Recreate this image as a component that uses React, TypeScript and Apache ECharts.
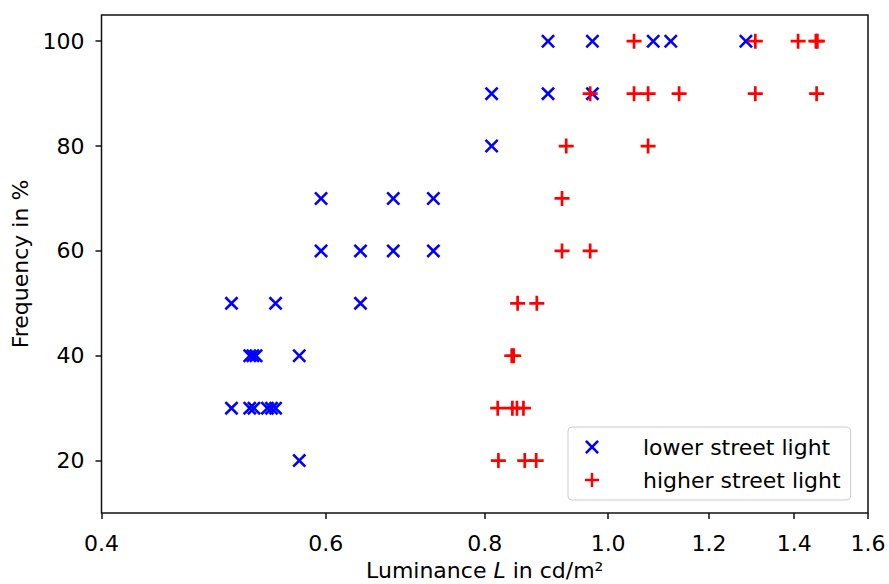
import React, { useEffect, useRef } from "react";
import * as echarts from "echarts";

const xTicks = [0.4, 0.6, 0.8, 1.0, 1.2, 1.4, 1.6];
const yTicks = [20, 40, 60, 80, 100];
const seriesNames = ["lower street light", "higher street light"];

// lower street light (blue x)
const lowerL = [
  0.897, 0.972, 1.085, 1.12, 1.283,
  0.81, 0.897, 0.972,
  0.81,
  0.595, 0.678, 0.729,
  0.595, 0.639, 0.678, 0.729,
  0.506, 0.548, 0.639,
  0.523, 0.526, 0.529, 0.572,
  0.506, 0.523, 0.527, 0.54, 0.544, 0.548,
  0.572,
];
const lowerFreq = [
  100, 100, 100, 100, 100,
  90, 90, 90,
  80,
  70, 70, 70,
  60, 60, 60, 60,
  50, 50, 50,
  40, 40, 40, 40,
  30, 30, 30, 30, 30, 30,
  20,
];

// higher street light (red +)
const higherL = [
  1.048, 1.305, 1.41, 1.456, 1.46,
  0.968, 1.048, 1.075, 1.137, 1.305, 1.458,
  0.927, 1.075,
  0.92,
  0.92, 0.968,
  0.849, 0.879,
  0.84, 0.843,
  0.819, 0.841, 0.848, 0.858,
  0.82, 0.86, 0.878,
];
const higherFreq = [
  100, 100, 100, 100, 100,
  90, 90, 90, 90, 90, 90,
  80, 80,
  70,
  60, 60,
  50, 50,
  40, 40,
  30, 30, 30, 30,
  20, 20, 20,
];

const X_PATH =
  "path://M0,1.3 L1.3,0 L5,3.7 L8.7,0 L10,1.3 L6.3,5 L10,8.7 L8.7,10 L5,6.3 L1.3,10 L0,8.7 L3.7,5 Z";
const PLUS_PATH =
  "path://M4.1,0 L5.9,0 L5.9,4.1 L10,4.1 L10,5.9 L5.9,5.9 L5.9,10 L4.1,10 L4.1,5.9 L0,5.9 L0,4.1 L4.1,4.1 Z";

const FONT = "DejaVu Sans";
const FS = 22;

export default function App() {
  const ref = useRef<HTMLDivElement>(null);
  useEffect(() => {
    if (!ref.current) return;
    const chart = echarts.init(ref.current, null, { renderer: "svg" });
    chart.setOption({
      animation: false,
      textStyle: { fontFamily: FONT },
      grid: {
        left: 101.5,
        right: 21,
        top: 15,
        bottom: 71,
        show: true,
        borderColor: "#111",
        borderWidth: 1.5,
        backgroundColor: "transparent",
        containLabel: false,
        outerBoundsMode: "none",
      },
      legend: {
        orient: "vertical",
        left: 568,
        top: 427,
        data: seriesNames,
        selectedMode: false,
        itemWidth: 30,
        itemHeight: 14,
        itemGap: 11,
        padding: [9, 10, 9, 17],
        backgroundColor: "rgba(255,255,255,0.8)",
        borderColor: "#cccccc",
        borderWidth: 1,
        borderRadius: 4,
        textStyle: {
          fontSize: FS,
          fontFamily: FONT,
          color: "#000",
          padding: [0, 0, 0, 31],
        },
      },
      xAxis: {
        type: "log",
        logBase: 10,
        min: 0.4,
        max: 1.6,
        name: "Luminance {i|L} in cd/m²",
        nameLocation: "middle",
        nameGap: 46,
        nameTextStyle: {
          fontSize: FS,
          fontFamily: FONT,
          color: "#000",
          rich: {
            i: { fontStyle: "italic", fontSize: FS, fontFamily: FONT, color: "#000" },
          },
        },
        axisLine: { show: false },
        axisTick: {
          show: true,
          length: 6,
          customValues: xTicks,
          lineStyle: { color: "#111", width: 1.5 },
        },
        axisLabel: {
          customValues: xTicks,
          formatter: (v: number) => Number(v).toFixed(1),
          fontSize: FS,
          fontFamily: FONT,
          color: "#000",
          margin: 19,
        },
        splitLine: { show: false },
        minorTick: { show: false },
      },
      yAxis: {
        type: "value",
        min: 10,
        max: 105,
        name: "Frequency in %",
        nameLocation: "middle",
        nameGap: 70,
        nameRotate: 90,
        nameTextStyle: { fontSize: FS, fontFamily: FONT, color: "#000" },
        axisLine: { show: false },
        axisTick: {
          show: true,
          length: 6,
          customValues: yTicks,
          lineStyle: { color: "#111", width: 1.5 },
        },
        axisLabel: {
          customValues: yTicks,
          fontSize: FS,
          fontFamily: FONT,
          color: "#000",
          margin: 17,
        },
        splitLine: { show: false },
      },
      series: [
        {
          name: seriesNames[0],
          type: "scatter",
          symbol: X_PATH,
          symbolSize: 14,
          itemStyle: { color: "#0000ff", opacity: 1 },
          emphasis: { disabled: true },
          data: lowerL.map((l, i) => [l, lowerFreq[i]]),
        },
        {
          name: seriesNames[1],
          type: "scatter",
          symbol: PLUS_PATH,
          symbolSize: 15,
          itemStyle: { color: "#ff0000", opacity: 1 },
          emphasis: { disabled: true },
          data: higherL.map((l, i) => [l, higherFreq[i]]),
        },
      ],
    });
    return () => chart.dispose();
  }, []);
  return (
    <div
      ref={ref}
      style={{ position: "fixed", left: 0, top: 0, width: 889, height: 584, background: "#fff" }}
    />
  );
}
